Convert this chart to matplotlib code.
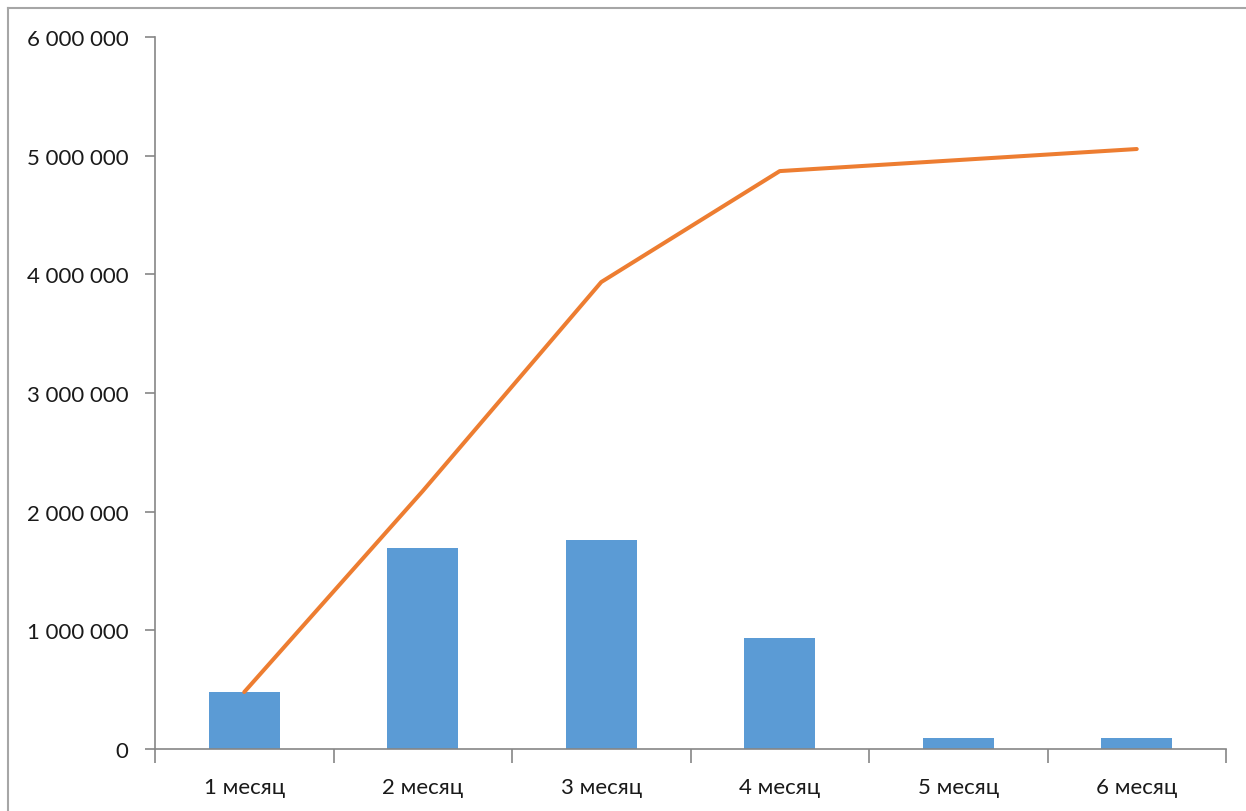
import matplotlib
matplotlib.use("Agg")
import matplotlib.pyplot as plt
import numpy as np
from matplotlib.lines import Line2D
from matplotlib.ticker import FuncFormatter, FixedLocator

# Помесячные значения и накопленный итог
months = ["1 месяц", "2 месяц", "3 месяц", "4 месяц", "5 месяц", "6 месяц"]
monthly = [480000, 1694000, 1761000, 935000, 93000, 93000]
cumulative = np.cumsum(monthly)

bar_color = "#5B9BD5"
line_color = "#ED7D31"
axis_color = "#868686"

plt.rcParams["font.family"] = ["Lato", "DejaVu Sans"]

fig = plt.figure(figsize=(12.46, 8.12), dpi=100)
ax = fig.add_axes([155 / 1246, 1 - 750 / 812, (1226 - 155) / 1246, (750 - 38) / 812])

x = np.arange(len(months))
ax.bar(x, monthly, width=0.4, color=bar_color, zorder=2)
ax.plot(x, cumulative, color=line_color, linewidth=2.9, solid_capstyle="round", zorder=3)

ax.set_xlim(-0.5, len(months) - 0.5)
ax.set_ylim(0, 6000000)
ax.set_yticks(np.arange(0, 6000001, 1000000))
ax.yaxis.set_major_formatter(FuncFormatter(lambda v, _: f"{int(v):,}".replace(",", " ")))

ax.set_xticks(x)
ax.set_xticklabels(months)
ax.xaxis.set_minor_locator(FixedLocator(np.arange(-0.5, len(months), 1.0)))

for side in ["top", "right"]:
    ax.spines[side].set_visible(False)
for side in ["left", "bottom"]:
    ax.spines[side].set_color(axis_color)
    ax.spines[side].set_linewidth(1.2)

ax.tick_params(axis="y", length=7, width=1.2, color=axis_color, pad=12,
               labelsize=16, labelcolor="#1a1a1a")
ax.tick_params(axis="x", which="major", length=0, pad=20, labelsize=16, labelcolor="#1a1a1a")
ax.tick_params(axis="x", which="minor", length=10, width=1.2, color=axis_color)

# рамка вокруг области диаграммы
fig.add_artist(Line2D([8 / 1246, 8 / 1246], [0, 1 - 9 / 812], transform=fig.transFigure,
                      color="#A6A6A6", linewidth=1.5))
fig.add_artist(Line2D([8 / 1246, 1], [1 - 9 / 812, 1 - 9 / 812], transform=fig.transFigure,
                      color="#A6A6A6", linewidth=1.5))

fig.savefig("out.png", dpi=100)
